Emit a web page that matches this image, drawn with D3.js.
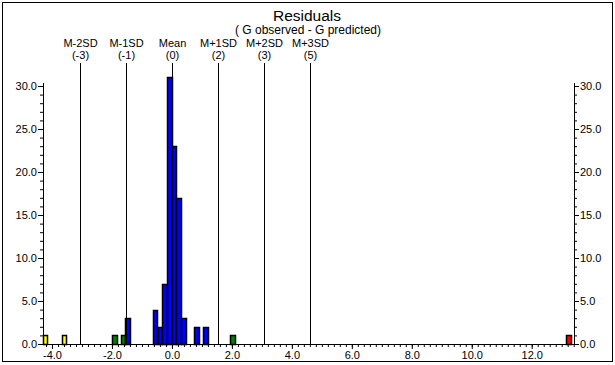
<!DOCTYPE html>
<html>
<head>
<meta charset="utf-8">
<script src="https://cdn.jsdelivr.net/npm/d3@7"></script>
<style>
    body { margin: 0; background: #fff; }
    svg text { font-family: "Liberation Sans", Arial, sans-serif; fill: #000; }
</style>
</head>
<body>
<div id="chart_parent"></div>
<script>
// histogram bins (centre of each bin, residual units) and their counts
const binCentres = [-4.23, -3.60, -1.92, -1.63, -1.48, -0.56, -0.40, -0.245, -0.09, 0.065, 0.22, 0.377, 0.82, 1.12, 2.03, 13.23];
const binCounts = [1, 1, 1, 1, 3, 4, 2, 7, 31, 23, 17, 3, 2, 2, 1, 1];
const binGroups = ['far', 'far', 'near', 'near', 'in', 'in', 'in', 'in', 'in', 'in', 'in', 'in', 'in', 'in', 'near', 'out'];
const binWidth = 0.155;

// mean / standard deviation markers
const sdLabels = ['M-2SD', 'M-1SD', 'Mean', 'M+1SD', 'M+2SD', 'M+3SD'];
const sdValueLabels = ['(-3)', '(-1)', '(0)', '(2)', '(3)', '(5)'];
const sdPositions = [-3.07, -1.53, 0.0, 1.53, 3.07, 4.60];

const xTicks = [-4, -2, 0, 2, 4, 6, 8, 10, 12];
const yTicks = [0, 5, 10, 15, 20, 25, 30];

const chartConfig = {
    outerWidth: 615,
    outerHeight: 365,
    plot: { left: 43, right: 574, top: 83, bottom: 344 },
    xDomain: [-4.3, 13.41],
    yDomain: [0, 30],
    yAt30: 86,
    groupColours: { far: '#ffff00', near: '#008000', in: '#0000ff', out: '#ff0000' },
};

function initialiseChart(rootSelector, config) {
    const svg = d3.select(rootSelector).append('svg')
        .attr('width', config.outerWidth)
        .attr('height', config.outerHeight);

    svg.append('rect')
        .attr('x', 2.5).attr('y', 2.5)
        .attr('width', 610).attr('height', 359)
        .attr('fill', '#fff')
        .attr('stroke', '#000');

    return svg;
}

function drawChart(config, svg) {
    const p = config.plot;

    const xScale = d3.scaleLinear().domain(config.xDomain).range([p.left, p.right]);
    const yScale = d3.scaleLinear().domain(config.yDomain).range([p.bottom, config.yAt30]);

    // titles
    svg.append('text')
        .attr('x', 307).attr('y', 21)
        .attr('text-anchor', 'middle')
        .style('font-size', '15.5px')
        .text('Residuals');
    svg.append('text')
        .attr('x', 308).attr('y', 34)
        .attr('text-anchor', 'middle')
        .style('font-size', '12px')
        .text('( G observed - G predicted)');

    // bars
    const bins = binCentres.map((c, i) => ({ c, n: binCounts[i], g: binGroups[i] }));
    svg.selectAll('.bar')
        .data(bins)
        .enter()
        .append('rect')
        .attr('class', 'bar')
        .attr('x', d => Math.round(xScale(d.c - binWidth / 2)) + 0.5)
        .attr('width', d => Math.round(xScale(d.c + binWidth / 2)) - Math.round(xScale(d.c - binWidth / 2)))
        .attr('y', d => Math.round(yScale(d.n)) + 0.5)
        .attr('height', d => Math.round(yScale(0)) - Math.round(yScale(d.n)))
        .attr('fill', d => config.groupColours[d.g])
        .attr('stroke', '#000')
        .attr('stroke-width', 1.5);

    // SD marker lines
    const markers = svg.selectAll('.sd')
        .data(sdPositions)
        .enter()
        .append('g')
        .attr('class', 'sd')
        .attr('transform', d => `translate(${Math.round(xScale(d)) + 0.5},0)`);
    markers.append('line')
        .attr('y1', 63).attr('y2', p.bottom)
        .attr('stroke', '#000');
    markers.append('text')
        .attr('y', 47)
        .attr('text-anchor', 'middle')
        .style('font-size', '11px')
        .text((d, i) => sdLabels[i]);
    markers.append('text')
        .attr('y', 59)
        .attr('text-anchor', 'middle')
        .style('font-size', '11px')
        .text((d, i) => sdValueLabels[i]);

    // x axis
    const xMinor = d3.range(-4.2, 13.41, 0.2);
    const xAxis = d3.axisBottom(xScale)
        .tickValues(xTicks)
        .tickSize(5)
        .tickFormat(d3.format('.1f'));
    const xAxisMinor = d3.axisBottom(xScale)
        .tickValues(xMinor)
        .tickSize(3)
        .tickFormat('');
    const gxMinor = svg.append('g').attr('transform', `translate(0,${p.bottom})`).call(xAxisMinor);
    const gx = svg.append('g').attr('transform', `translate(0,${p.bottom})`).call(xAxis);
    gx.select('.domain').attr('d', `M${p.left},0.5H${p.right}`);
    gxMinor.select('.domain').remove();
    gx.selectAll('text').attr('dy', '0.6em').style('font-size', '11px')
        .text(d => d3.format('.1f')(d).replace('−', '-'));

    // y axes, left and right
    const yMinor = d3.range(0, 31, 1);
    [['left', p.left, d3.axisLeft], ['right', p.right, d3.axisRight]].forEach(([side, xPos, axisFn]) => {
        const gMinor = svg.append('g').attr('transform', `translate(${xPos},0)`)
            .call(axisFn(yScale).tickValues(yMinor).tickSize(3).tickFormat(''));
        gMinor.select('.domain').remove();
        const g = svg.append('g').attr('transform', `translate(${xPos},0)`)
            .call(axisFn(yScale).tickValues(yTicks).tickSize(5).tickFormat(d3.format('.1f')));
        g.select('.domain').attr('d', `M0.5,${p.top}V${p.bottom + 0.5}`);
        g.selectAll('text').style('font-size', '11px').attr('x', side === 'left' ? -6 : 6);
    });

    svg.selectAll('.tick line').attr('stroke', '#000');
}

const chartSvg = initialiseChart('#chart_parent', chartConfig);
drawChart(chartConfig, chartSvg);
</script>
</body>
</html>
